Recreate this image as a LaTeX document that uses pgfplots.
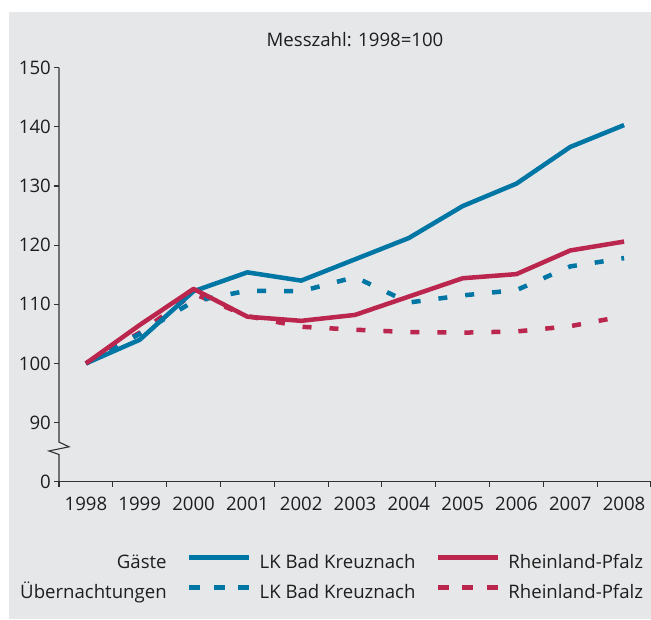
\documentclass[border=0pt]{standalone}
\usepackage{pgfplots}
\pgfplotsset{compat=1.18}
\usepackage{fontspec}
\setmainfont{Open Sans}
\usepackage{calc}
\definecolor{kblue}{RGB}{0,118,165}
\definecolor{kred}{RGB}{187,38,78}
\definecolor{bg}{RGB}{230,231,233}
\definecolor{txt}{RGB}{30,30,30}
\definecolor{axisc}{RGB}{50,50,50}
\newcommand{\fs}{\fontsize{18.6}{22}\selectfont}
\begin{document}
\begin{tikzpicture}[font=\fs, text=txt]
\useasboundingbox (-59pt,-137.3pt) rectangle (592pt,481.7pt);
\fill[white] (-59pt,-137.3pt) rectangle (592pt,481.7pt);
\fill[bg] (-50pt,-137.3pt) rectangle (592pt,469.7pt);
\begin{axis}[
  at={(0pt,0pt)}, anchor=south west,
  scale only axis, width=592pt, height=414pt,
  xmin=-0.5, xmax=10.5, ymin=80, ymax=150,
  clip=false,
  axis x line=bottom, axis y line=left,
  axis line style={-, draw=axisc, line width=1.1pt},
  y axis line style={draw=none},
  xtick={-0.5,0.5,1.5,2.5,3.5,4.5,5.5,6.5,7.5,8.5,9.5,10.5},
  x tick label as interval,
  xticklabels={1998,1999,2000,2001,2002,2003,2004,2005,2006,2007,2008},
  ytick={80,90,100,110,120,130,140,150},
  yticklabels={0,90,100,110,120,130,140,150},
  tick align=outside, major tick length=5pt,
  tick style={draw=axisc, line width=1.1pt},
  ticklabel style={font=\fs, text=txt},
  xticklabel style={inner sep=0pt, yshift=-10pt},
  yticklabel style={inner sep=0pt, xshift=-3pt},
  /pgf/number format/assume math mode=true,
  title={Messzahl: 1998=100},
  title style={at={(0.5,1)}, anchor=base, yshift=15.7pt, font=\fs, text=txt, inner sep=0pt},
  legend columns=3,
  legend cell align=left,
  legend style={at={(0.9865,0)}, anchor=north east, yshift=-73.3pt,
    draw=none, fill=none, inner sep=0pt, outer sep=0pt, font=\fs, text=txt,
    row sep=13pt,
    nodes={inner sep=0pt, text height=13pt, text depth=4pt},
    /tikz/every odd column/.append style={column sep=8pt},
    /tikz/every even column/.append style={column sep=20pt}},
  legend image code/.code={\draw[#1] (0pt,6pt) -- (60pt,6pt);},
]
\addlegendimage{empty legend}
\addlegendentry{\makebox[\widthof{Übernachtungen}][r]{Gäste}}
\addlegendimage{kblue, line width=5pt}
\addlegendentry{LK Bad Kreuznach}
\addlegendimage{kred, line width=5pt}
\addlegendentry{Rheinland-Pfalz}
\addlegendimage{empty legend}
\addlegendentry{Übernachtungen}
\addlegendimage{kblue, line width=5pt, dash pattern=on 11pt off 13.5pt}
\addlegendentry{LK Bad Kreuznach}
\addlegendimage{kred, line width=5pt, dash pattern=on 11pt off 13.5pt}
\addlegendentry{Rheinland-Pfalz}

% Übernachtungen Rheinland-Pfalz
\addplot[kred, line width=4.5pt, dash pattern=on 9pt off 18pt, forget plot] coordinates {
(0,100) (1,105.2) (2,111.8) (3,108.0) (4,106.2) (5,105.7) (6,105.3) (7,105.2) (8,105.4) (9,106.3) (10,108.0)};
% Übernachtungen LK Bad Kreuznach
\addplot[kblue, line width=4.5pt, dash pattern=on 9pt off 18pt, forget plot] coordinates {
(0,100) (1,105.0) (2,110.5) (3,112.3) (4,112.2) (5,114.6) (6,110.3) (7,111.5) (8,112.4) (9,116.4) (10,117.8)};
% Gäste LK Bad Kreuznach
\addplot[kblue, line width=4.5pt, line join=round, forget plot] coordinates {
(0,100) (1,104.0) (2,112.2) (3,115.4) (4,114.0) (5,117.6) (6,121.2) (7,126.6) (8,130.4) (9,136.6) (10,140.3)};
% Gäste Rheinland-Pfalz
\addplot[kred, line width=4.5pt, line join=round, forget plot] coordinates {
(0,100) (1,106.5) (2,112.6) (3,107.9) (4,107.2) (5,108.2) (6,111.3) (7,114.4) (8,115.1) (9,119.1) (10,120.6)};

\draw[axisc, line width=1.1pt] (axis cs:-0.5,150) -- (axis cs:-0.5,86.7)
  -- ([xshift=10pt]axis cs:-0.5,85.9) -- ([xshift=-10pt]axis cs:-0.5,85.2)
  -- (axis cs:-0.5,84.6) -- (axis cs:-0.5,80);
\end{axis}
\end{tikzpicture}
\end{document}
